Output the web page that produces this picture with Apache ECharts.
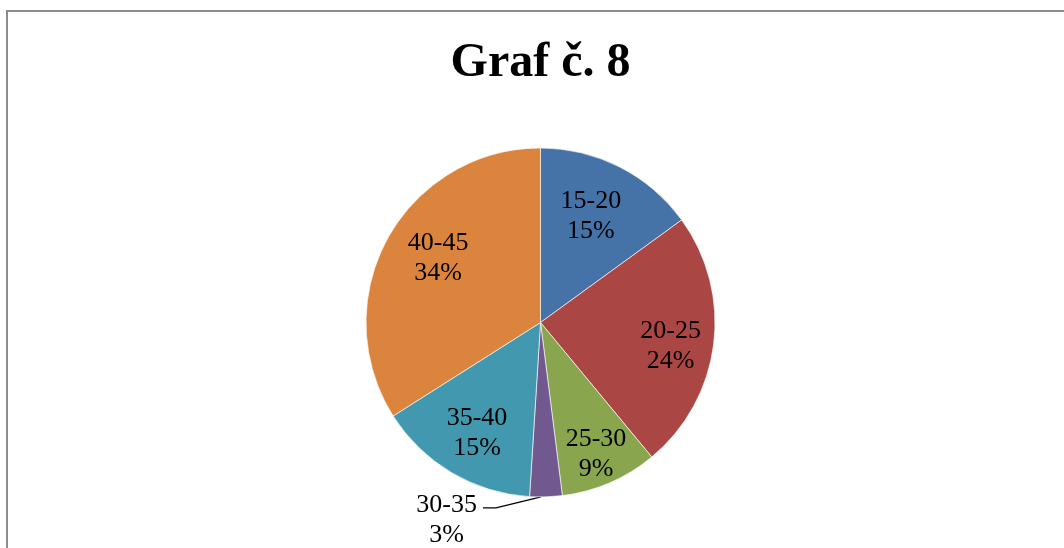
<!DOCTYPE html>
<html><head><meta charset="utf-8">
<script src="https://cdn.jsdelivr.net/npm/echarts@6/dist/echarts.min.js"></script>
<style>
html,body{margin:0;padding:0;background:#fff;overflow:hidden;width:1064px;height:548px}
#chart{position:absolute;left:0;top:0;width:1064px;height:548px}
#frame{position:absolute;left:6px;top:10px;width:2000px;height:2000px;border-left:2px solid #8c8c8c;border-top:2px solid #8c8c8c;pointer-events:none}
</style></head><body>
<div id="chart"></div><div id="frame"></div>
<script>
const titleText = 'Graf č. 8';
const categories = ['15-20', '20-25', '25-30', '30-35', '35-40', '40-45'];
const values = [15, 24, 9, 3, 15, 34];
const colors = ['#4572A7', '#AA4643', '#89A54E', '#71588F', '#4198AF', '#DB843D'];

// label layout config (not data): radius ratio and angle offset (deg) of each inside label
const labelRadiusRatio = [0.676, 0.758, 0.817, null, 0.73, 0.692];
const labelAngleOffset = [-1.7, 3.3, 0.5, 0, -0.7, 3.2];
const outsideIndex = 3;
const CENTER_X = 0.508, CENTER_Y = 0.5885, RADIUS = 174.5;
const FONT = "'Liberation Serif','Times New Roman',serif";

const chart = echarts.init(document.getElementById('chart'), null, {renderer: 'canvas'});

const total = values.reduce((s, v) => s + v, 0);
const midAngles = [];
(function () {
  let acc = 0;
  values.forEach(v => { midAngles.push((acc + v / 2) / total * 360); acc += v; });
})();

const data = categories.map((name, i) => {
  const item = {name: name, value: values[i], itemStyle: {color: colors[i]}};
  if (i !== outsideIndex) {
    item.label = {position: 'inside'};
    item.labelLine = {show: false};
  } else {
    item.label = {formatter: '\n{b}\n{d}%'};
  }
  return item;
});

chart.setOption({
  animation: false,
  title: {
    text: titleText,
    left: '50.33%',
    textAlign: 'center',
    top: 35,
    textStyle: {fontFamily: FONT, fontSize: 48, fontWeight: 'bold', color: '#000'}
  },
  series: [{
    type: 'pie',
    center: [(CENTER_X * 100) + '%', (CENTER_Y * 100) + '%'],
    radius: RADIUS,
    startAngle: 90,
    clockwise: true,
    avoidLabelOverlap: false,
    itemStyle: {borderColor: 'rgba(255,255,255,0.8)', borderWidth: 0.8},
    label: {
      show: true,
      position: 'outside',
      formatter: '{b}\n{d}%',
      fontFamily: FONT,
      fontSize: 26,
      lineHeight: 30,
      color: '#000'
    },
    labelLine: {show: true, length: 10, length2: 13, lineStyle: {color: '#000', width: 1.3}},
    emphasis: {disabled: true},
    data: data,
    labelLayout: function (p) {
      const cx = chart.getWidth() * CENTER_X;
      const cy = chart.getHeight() * CENTER_Y;
      if (p.dataIndex === outsideIndex) {
        const pts = p.labelLinePoints;
        if (!pts) return {};
        const a = pts[0];
        const lineY = a[1] + 11;
        const elbowX = a[0] - 50;
        const endX = a[0] - 63;
        const labelRight = endX - 6;
        const w = p.labelRect.width;
        return {
          x: labelRight - w / 2,
          y: a[1] + 8,
          align: 'center',
          verticalAlign: 'middle',
          labelLinePoints: [[a[0] - 5, a[1]], [elbowX, lineY], [endX, lineY]]
        };
      }
      const i = p.dataIndex;
      const ang = (midAngles[i] + labelAngleOffset[i]) * Math.PI / 180;
      const d = RADIUS * labelRadiusRatio[i];
      return {
        x: cx + d * Math.sin(ang),
        y: cy - d * Math.cos(ang),
        align: 'center',
        verticalAlign: 'middle'
      };
    }
  }]
});
</script>
</body></html>
